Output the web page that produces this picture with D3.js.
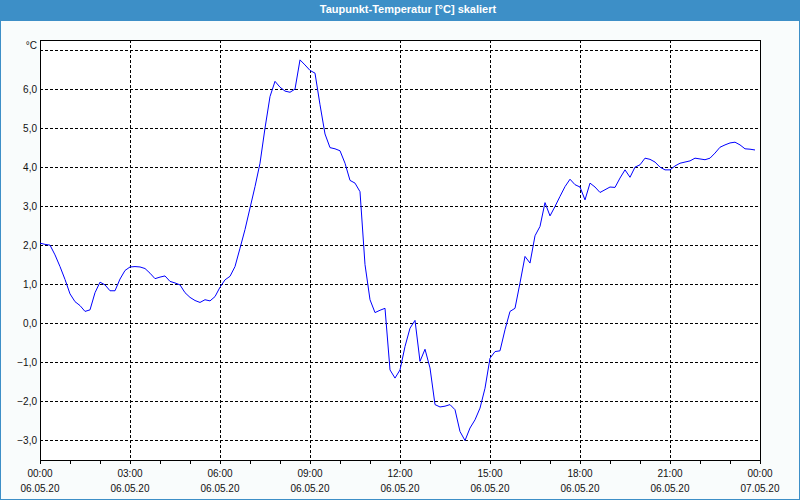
<!DOCTYPE html>
<html>
<head>
<meta charset="utf-8">
<script src="https://cdn.jsdelivr.net/npm/d3@7"></script>
<style>
	body { margin: 0; background: #fff; }
	svg { display: block; font-family: "Liberation Sans", Arial, sans-serif; }
	.tickLabel { font-size: 10px; fill: #111; }
	.grid line { stroke: #000; stroke-dasharray: 3,2; shape-rendering: crispEdges; }
</style>
</head>
<body>
<svg class="mainSvg" width="800" height="500"></svg>
<script>
	var chartTitle = "Taupunkt-Temperatur [°C] skaliert";
	var unitLabel = "°C";
	var startTime = "2020-05-06T00:00:00";
	var endTime = "2020-05-07T00:00:00";
	var sampleMinutes = 10;
	var yTickValues = [-3, -2, -1, 0, 1, 2, 3, 4, 5, 6];
	var yGridValues = [-3, -2, -1, 0, 1, 2, 3, 4, 5, 6, 7];

	// dew point readings, one every 10 minutes from 00:00
	var dewPoint = [
		2.05, 2.02, 2.0, 1.75, 1.45, 1.12, 0.75, 0.55, 0.45, 0.3, 0.34, 0.78,
		1.05, 0.98, 0.83, 0.83, 1.13, 1.35, 1.44, 1.45, 1.44, 1.4, 1.28, 1.14,
		1.18, 1.21, 1.07, 1.03, 0.98, 0.78, 0.66, 0.58, 0.53, 0.6, 0.57, 0.68,
		0.92, 1.11, 1.2, 1.45, 1.92, 2.4, 2.95, 3.5, 4.1, 5.0, 5.81, 6.2,
		6.05, 5.95, 5.92, 6.0, 6.75, 6.62, 6.48, 6.41, 5.6, 4.85, 4.5, 4.47,
		4.42, 4.1, 3.66, 3.59, 3.37, 1.5, 0.6, 0.27, 0.33, 0.38, -1.2, -1.41,
		-1.2, -0.6, -0.13, 0.07, -0.98, -0.67, -1.15, -2.09, -2.15, -2.13, -2.09, -2.22,
		-2.78, -3.01, -2.69, -2.48, -2.18, -1.67, -0.9, -0.73, -0.71, -0.17, 0.3, 0.38,
		1.03, 1.71, 1.54, 2.24, 2.48, 3.09, 2.75, 2.99, 3.25, 3.5, 3.69, 3.55,
		3.49, 3.16, 3.59, 3.49, 3.35, 3.42, 3.49, 3.48, 3.72, 3.93, 3.74, 4.0,
		4.06, 4.23, 4.2, 4.13, 4.0, 3.93, 3.93, 4.03, 4.1, 4.13, 4.16, 4.23,
		4.21, 4.19, 4.23, 4.36, 4.51, 4.57, 4.62, 4.64, 4.57, 4.47, 4.46, 4.44
	];

	var svg = d3.select('.mainSvg');
	var W = 800, H = 500;
	var plot = {left: 40, top: 40, right: 760, bottom: 460};
	var blue = '#3d8fc7';

	// window frame and title bar
	svg.append('rect').attr('width', W).attr('height', H).attr('fill', '#f9fcfc');
	svg.append('rect').attr('width', W).attr('height', 21).attr('fill', blue);
	svg.append('rect').attr('x', 0.5).attr('y', 0.5).attr('width', W - 1).attr('height', H - 1)
		.attr('fill', 'none').attr('stroke', blue);
	svg.append('text').attr('x', 408).attr('y', 13).attr('text-anchor', 'middle')
		.attr('fill', '#fff').style('font-size', '11px').style('font-weight', 'bold')
		.text(chartTitle);

	var t0 = new Date(startTime), t1 = new Date(endTime);
	var data = dewPoint.map(function(v, i){
		return {t: new Date(t0.getTime() + i * sampleMinutes * 60000), v: v};
	});

	var xScale = d3.scaleTime().domain([t0, t1]).range([plot.left, plot.right]);
	var yScale = d3.scaleLinear().domain([-3.51, 7.26]).range([plot.bottom, plot.top]);

	svg.append('rect').attr('x', plot.left).attr('y', plot.top)
		.attr('width', plot.right - plot.left).attr('height', plot.bottom - plot.top)
		.attr('fill', '#fff');

	// grid
	var grid = svg.append('g').classed('grid', true);
	grid.selectAll('.hLine').data(yGridValues).enter().append('line')
		.attr('x1', plot.left).attr('x2', plot.right)
		.attr('y1', function(d){ return Math.round(yScale(d)) + 0.5; })
		.attr('y2', function(d){ return Math.round(yScale(d)) + 0.5; });
	var majorTimes = xScale.ticks(d3.timeHour.every(3));
	grid.selectAll('.vLine').data(majorTimes.slice(1, -1)).enter().append('line')
		.attr('y1', plot.top).attr('y2', plot.bottom)
		.attr('x1', function(d){ return Math.round(xScale(d)) + 0.5; })
		.attr('x2', function(d){ return Math.round(xScale(d)) + 0.5; });

	// y labels
	var fmt = function(d){ return d3.format('.1f')(d).replace('.', ',').replace('-', '-'); };
	svg.append('g').selectAll('text').data(yTickValues).enter().append('text')
		.classed('tickLabel', true)
		.attr('x', 37).attr('y', function(d){ return yScale(d) + 3.5; })
		.attr('text-anchor', 'end').text(fmt);
	svg.append('text').classed('tickLabel', true).attr('x', 37).attr('y', 49)
		.attr('text-anchor', 'end').text(unitLabel);

	// x axis with hourly ticks
	var xAxis = svg.append('g').attr('transform', 'translate(0,' + plot.bottom + ')')
		.call(d3.axisBottom(xScale).ticks(d3.timeHour.every(1)).tickSize(4).tickFormat(''));
	xAxis.select('.domain').remove();
	xAxis.selectAll('line').attr('stroke', '#000').style('shape-rendering', 'crispEdges');

	var xl = svg.append('g').selectAll('g').data(majorTimes).enter().append('g')
		.attr('transform', function(d){ return 'translate(' + xScale(d) + ',0)'; });
	xl.append('text').classed('tickLabel', true).attr('y', 477).attr('text-anchor', 'middle')
		.text(d3.timeFormat('%H:%M'));
	xl.append('text').classed('tickLabel', true).attr('y', 492).attr('text-anchor', 'middle')
		.text(d3.timeFormat('%d.%m.%y'));

	// plot frame
	svg.append('rect').attr('x', plot.left + 0.5).attr('y', plot.top + 0.5)
		.attr('width', plot.right - plot.left).attr('height', plot.bottom - plot.top)
		.attr('fill', 'none').attr('stroke', '#000').style('shape-rendering', 'crispEdges');

	// line
	var lineGenerator = d3.line()
		.x(function(d){ return xScale(d.t); })
		.y(function(d){ return yScale(d.v); });
	svg.append('path').datum(data)
		.attr('fill', 'none').attr('stroke', '#0000ff').attr('stroke-width', 1)
		.attr('d', lineGenerator);
</script>
</body>
</html>
